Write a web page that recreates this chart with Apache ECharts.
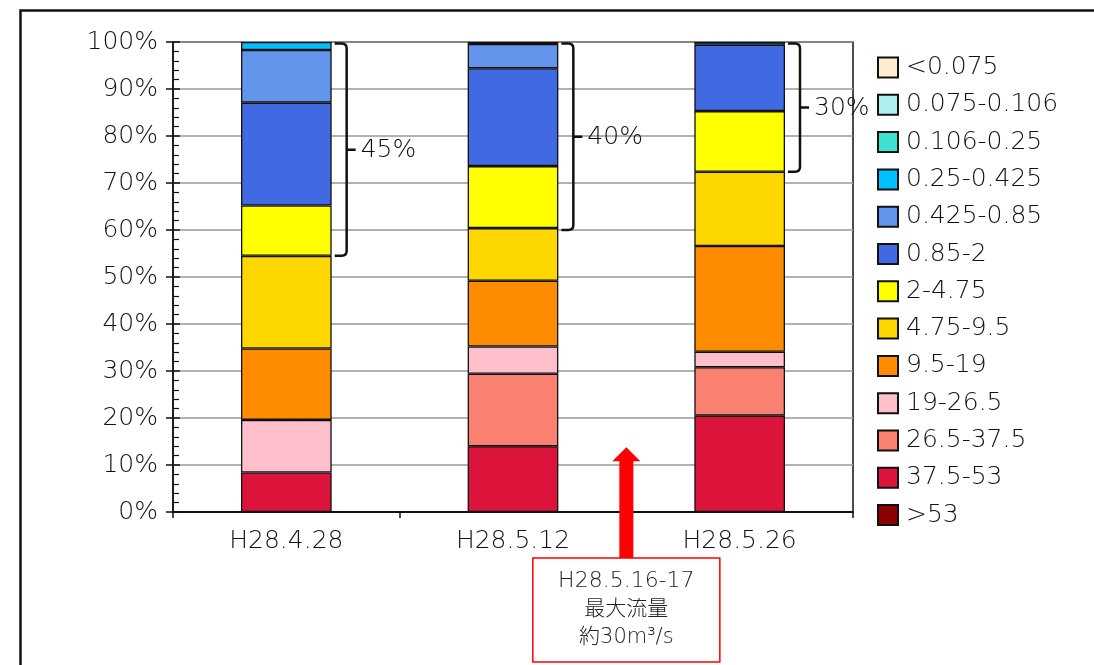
<!DOCTYPE html>
<html>
<head>
<meta charset="utf-8">
<script src="https://cdn.jsdelivr.net/npm/echarts@6/dist/echarts.min.js"></script>
<style>
html,body{margin:0;padding:0;background:#fff;}
#chart{width:1094px;height:665px;}
</style>
</head>
<body>
<div id="chart"></div>
<script>
// ---- data ----
const categories = ['H28.4.28', 'H28.5.12', 'H28.5.26'];
// size classes, bottom of stack first
const sizeClasses = ['>53', '37.5-53', '26.5-37.5', '19-26.5', '9.5-19', '4.75-9.5', '2-4.75', '0.85-2', '0.425-0.85', '0.25-0.425', '0.106-0.25', '0.075-0.106', '<0.075'];
const classColors = ['#8B0000', '#DC143C', '#FA8072', '#FFC0CB', '#FF8C00', '#FFD700', '#FFFF00', '#4169E1', '#6495ED', '#00BFFF', '#40E0D0', '#AFEEEE', '#FFEBCD'];
const gt53      = [0, 0, 0];
const s37_53    = [8.4, 14.0, 20.5];
const s26_37    = [0, 15.4, 10.3];
const s19_26    = [11.2, 5.8, 3.3];
const s9_19     = [15.2, 14.0, 22.5];
const s4_9      = [19.7, 11.2, 15.8];
const s2_4      = [10.7, 13.2, 12.9];
const s085_2    = [21.9, 20.8, 14.1];
const s0425_085 = [11.2, 5.2, 0];
const s025_0425 = [1.7, 0.4, 0.6];
const s0106_025 = [0, 0, 0];
const s0075_0106 = [0, 0, 0];
const lt0075    = [0, 0, 0];
const classValues = [gt53, s37_53, s26_37, s19_26, s9_19, s4_9, s2_4, s085_2, s0425_085, s025_0425, s0106_025, s0075_0106, lt0075];

// brackets (range of fine fraction) per category
const bracketLow = [54.5, 60.0, 72.4];
const bracketHigh = [100, 100, 100];
const bracketLabels = ['45%', '40%', '30%'];

// flood event arrow
const arrowBetween = [1, 2];   // between categories 2 and 3
const arrowTip = 13.8;
const eventLines = ['H28.5.16-17', '最大流量', '約30m³/s'];

const FONT = '"DejaVu Sans", "Noto Sans CJK JP", sans-serif';
const FW = 300;
const TXT = '#111';

const barSeries = sizeClasses.map((name, i) => ({
  name: name,
  type: 'bar',
  stack: 'total',
  yAxisIndex: 0,
  barWidth: '40%',
  itemStyle: { color: classColors[i], borderColor: '#111', borderWidth: 1.3 },
  emphasis: { disabled: true },
  data: classValues[i].map(v => v === 0 ? '-' : v)
}));

const bracketSeries = {
  type: 'custom',
  name: 'brackets',
  yAxisIndex: 0,
  silent: true,
  z: 5,
  data: bracketLow.map((lo, i) => [i, lo, bracketHigh[i]]),
  renderItem: function (params, api) {
    const idx = api.value(0);
    const top = api.coord([idx, api.value(2)]);
    const bot = api.coord([idx, api.value(1)]);
    const bw = api.size([1, 0])[0];
    const xr = top[0] + bw * 0.2 + 3;
    const xv = top[0] + bw * 0.2 + 15;
    const r = 5;
    const yt = top[1] + 1.5;
    const yb = bot[1];
    const ym = (yt + yb) / 2;
    const d = 'M' + xr + ' ' + yt + ' L' + (xv - r) + ' ' + yt + ' Q' + xv + ' ' + yt + ' ' + xv + ' ' + (yt + r) +
      ' L' + xv + ' ' + (yb - r) + ' Q' + xv + ' ' + yb + ' ' + (xv - r) + ' ' + yb + ' L' + xr + ' ' + yb +
      ' M' + xv + ' ' + ym + ' L' + (xv + 9) + ' ' + ym;
    return {
      type: 'group',
      children: [
        { type: 'path', shape: { pathData: d }, style: { fill: 'none', stroke: '#111', lineWidth: 2.5 } },
        { type: 'text', style: { text: bracketLabels[params.dataIndex], x: xv + 14, y: ym + 1, align: 'left', verticalAlign: 'middle', fontSize: 25, fontWeight: FW, fontFamily: FONT, fill: TXT } }
      ]
    };
  }
};

const arrowSeries = {
  type: 'custom',
  name: 'event',
  yAxisIndex: 0,
  silent: true,
  z: 6,
  clip: false,
  data: [[arrowBetween[0], arrowTip]],
  renderItem: function (params, api) {
    const a = api.coord([arrowBetween[0], api.value(1)]);
    const b = api.coord([arrowBetween[1], api.value(1)]);
    const cx = (a[0] + b[0]) / 2;
    const tipY = a[1];
    const axisY = api.coord([arrowBetween[0], 0])[1];
    const boxTop = axisY + 46;
    const boxH = 104, boxW = 187;
    const headH = 14, headW = 14, shaftW = 7;
    return {
      type: 'group',
      children: [
        { type: 'polygon', shape: { points: [[cx, tipY], [cx + headW, tipY + headH], [cx + shaftW, tipY + headH], [cx + shaftW, boxTop], [cx - shaftW, boxTop], [cx - shaftW, tipY + headH], [cx - headW, tipY + headH]] }, style: { fill: '#FF0000' } },
        { type: 'rect', shape: { x: cx - boxW / 2, y: boxTop, width: boxW, height: boxH }, style: { fill: '#fff', stroke: '#FF0000', lineWidth: 1.5 } },
        { type: 'text', style: { text: eventLines[0], x: cx, y: boxTop + 23, align: 'center', verticalAlign: 'middle', fontSize: 22, fontWeight: FW, fontFamily: FONT, fill: '#222' } },
        { type: 'text', style: { text: eventLines[1], x: cx, y: boxTop + 52, align: 'center', verticalAlign: 'middle', fontSize: 21, fontWeight: FW, fontFamily: FONT, fill: '#222' } },
        { type: 'text', style: { text: eventLines[2], x: cx, y: boxTop + 80, align: 'center', verticalAlign: 'middle', fontSize: 21, fontWeight: FW, fontFamily: FONT, fill: '#222' } }
      ]
    };
  }
};

const chart = echarts.init(document.getElementById('chart'), null, { renderer: 'canvas' });
chart.setOption({
  animation: false,
  backgroundColor: '#fff',
  textStyle: { fontFamily: FONT },
  graphic: [
    { type: 'rect', left: 18, top: 8, shape: { width: 1200, height: 800 }, style: { fill: 'none', stroke: '#111', lineWidth: 2.5 }, silent: true, z: -1 }
  ],
  grid: { left: 173, right: 241, top: 42, bottom: 153, show: true, borderColor: '#111', borderWidth: 1.5, backgroundColor: 'transparent' },
  legend: {
    orient: 'vertical',
    left: 877,
    top: 55,
    itemWidth: 20,
    itemHeight: 20,
    itemGap: 12.3,
    padding: 0,
    icon: 'rect',
    selectedMode: false,
    data: sizeClasses.slice().reverse(),
    textStyle: { fontSize: 25, fontWeight: FW, color: TXT, fontFamily: FONT, padding: [0, 0, 0, 3] }
  },
  xAxis: {
    type: 'category',
    data: categories,
    axisLine: { lineStyle: { color: '#111', width: 2 } },
    axisTick: { show: true, length: 6, lineStyle: { color: '#111', width: 1.5 } },
    axisLabel: { fontSize: 25, fontWeight: FW, color: TXT, margin: 17, fontFamily: FONT },
    splitLine: { show: false }
  },
  yAxis: [
    {
      type: 'value', min: 0, max: 100, interval: 10,
      axisLine: { show: true, lineStyle: { color: '#111', width: 1.5 } },
      axisTick: { show: true, length: 7, lineStyle: { color: '#111', width: 1.5 } },
      axisLabel: { formatter: '{value}%', fontSize: 25, fontWeight: FW, color: TXT, margin: 15, fontFamily: FONT, padding: [5, 0, 0, 0] },
      splitLine: { show: true, lineStyle: { color: '#999', width: 1.5 } }
    },
    {
      type: 'value', min: 0, max: 100, interval: 10, position: 'left',
      axisLine: { show: false },
      axisTick: { show: true, inside: true, length: 7, lineStyle: { color: '#111', width: 1.5 } },
      minorTick: { show: true, splitNumber: 5, length: 6, lineStyle: { color: '#111', width: 1.2 } },
      axisLabel: { show: false },
      splitLine: { show: false }
    }
  ],
  series: barSeries.concat([bracketSeries, arrowSeries])
});
</script>
</body>
</html>
